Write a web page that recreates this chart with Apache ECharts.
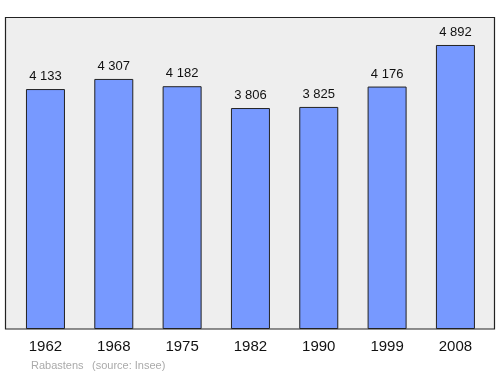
<!DOCTYPE html>
<html><head><meta charset="utf-8">
<script src="https://cdn.jsdelivr.net/npm/echarts@6/dist/echarts.min.js"></script>
<style>html,body{margin:0;padding:0;background:#fff}#c{width:500px;height:374px}</style>
</head><body><div id="c"></div>
<script>
var years = ['1962','1968','1975','1982','1990','1999','2008'];
var population = [4133,4307,4182,3806,3825,4176,4892];
var chart = echarts.init(document.getElementById('c'));
chart.setOption({
  animation:false,
  graphic:[
    {type:'rect',shape:{x:5.5,y:17.5,width:489,height:311.5},style:{fill:'#eeeeee',stroke:'#222',lineWidth:1.2},z:-10},
    {type:'text',left:31,top:360,style:{text:'Rabastens',fill:'#aaaaaa',font:'11px "Liberation Sans", Arial, sans-serif'}},
    {type:'text',left:92,top:360,style:{text:'(source: Insee)',fill:'#aaaaaa',font:'11px "Liberation Sans", Arial, sans-serif'}}
  ],
  grid:{left:11.3,width:478.3,top:17,bottom:45},
  xAxis:{type:'category',data:years,axisLine:{show:false},axisTick:{show:false},
    axisLabel:{color:'#111',fontSize:15,margin:10,fontFamily:'"Liberation Sans", Arial, sans-serif'}},
  yAxis:{type:'value',min:0,max:5374,show:false,splitLine:{show:false}},
  series:[{type:'bar',data:population,barWidth:39,
    itemStyle:{color:'#7799ff',borderColor:'#222',borderWidth:1},
    label:{show:true,position:'top',distance:6,color:'#111',fontSize:13,fontFamily:'"Liberation Sans", Arial, sans-serif',
      formatter:function(p){return String(p.value).replace(/\B(?=(\d{3})+(?!\d))/g,' ');}}
  }]
});
</script></body></html>
